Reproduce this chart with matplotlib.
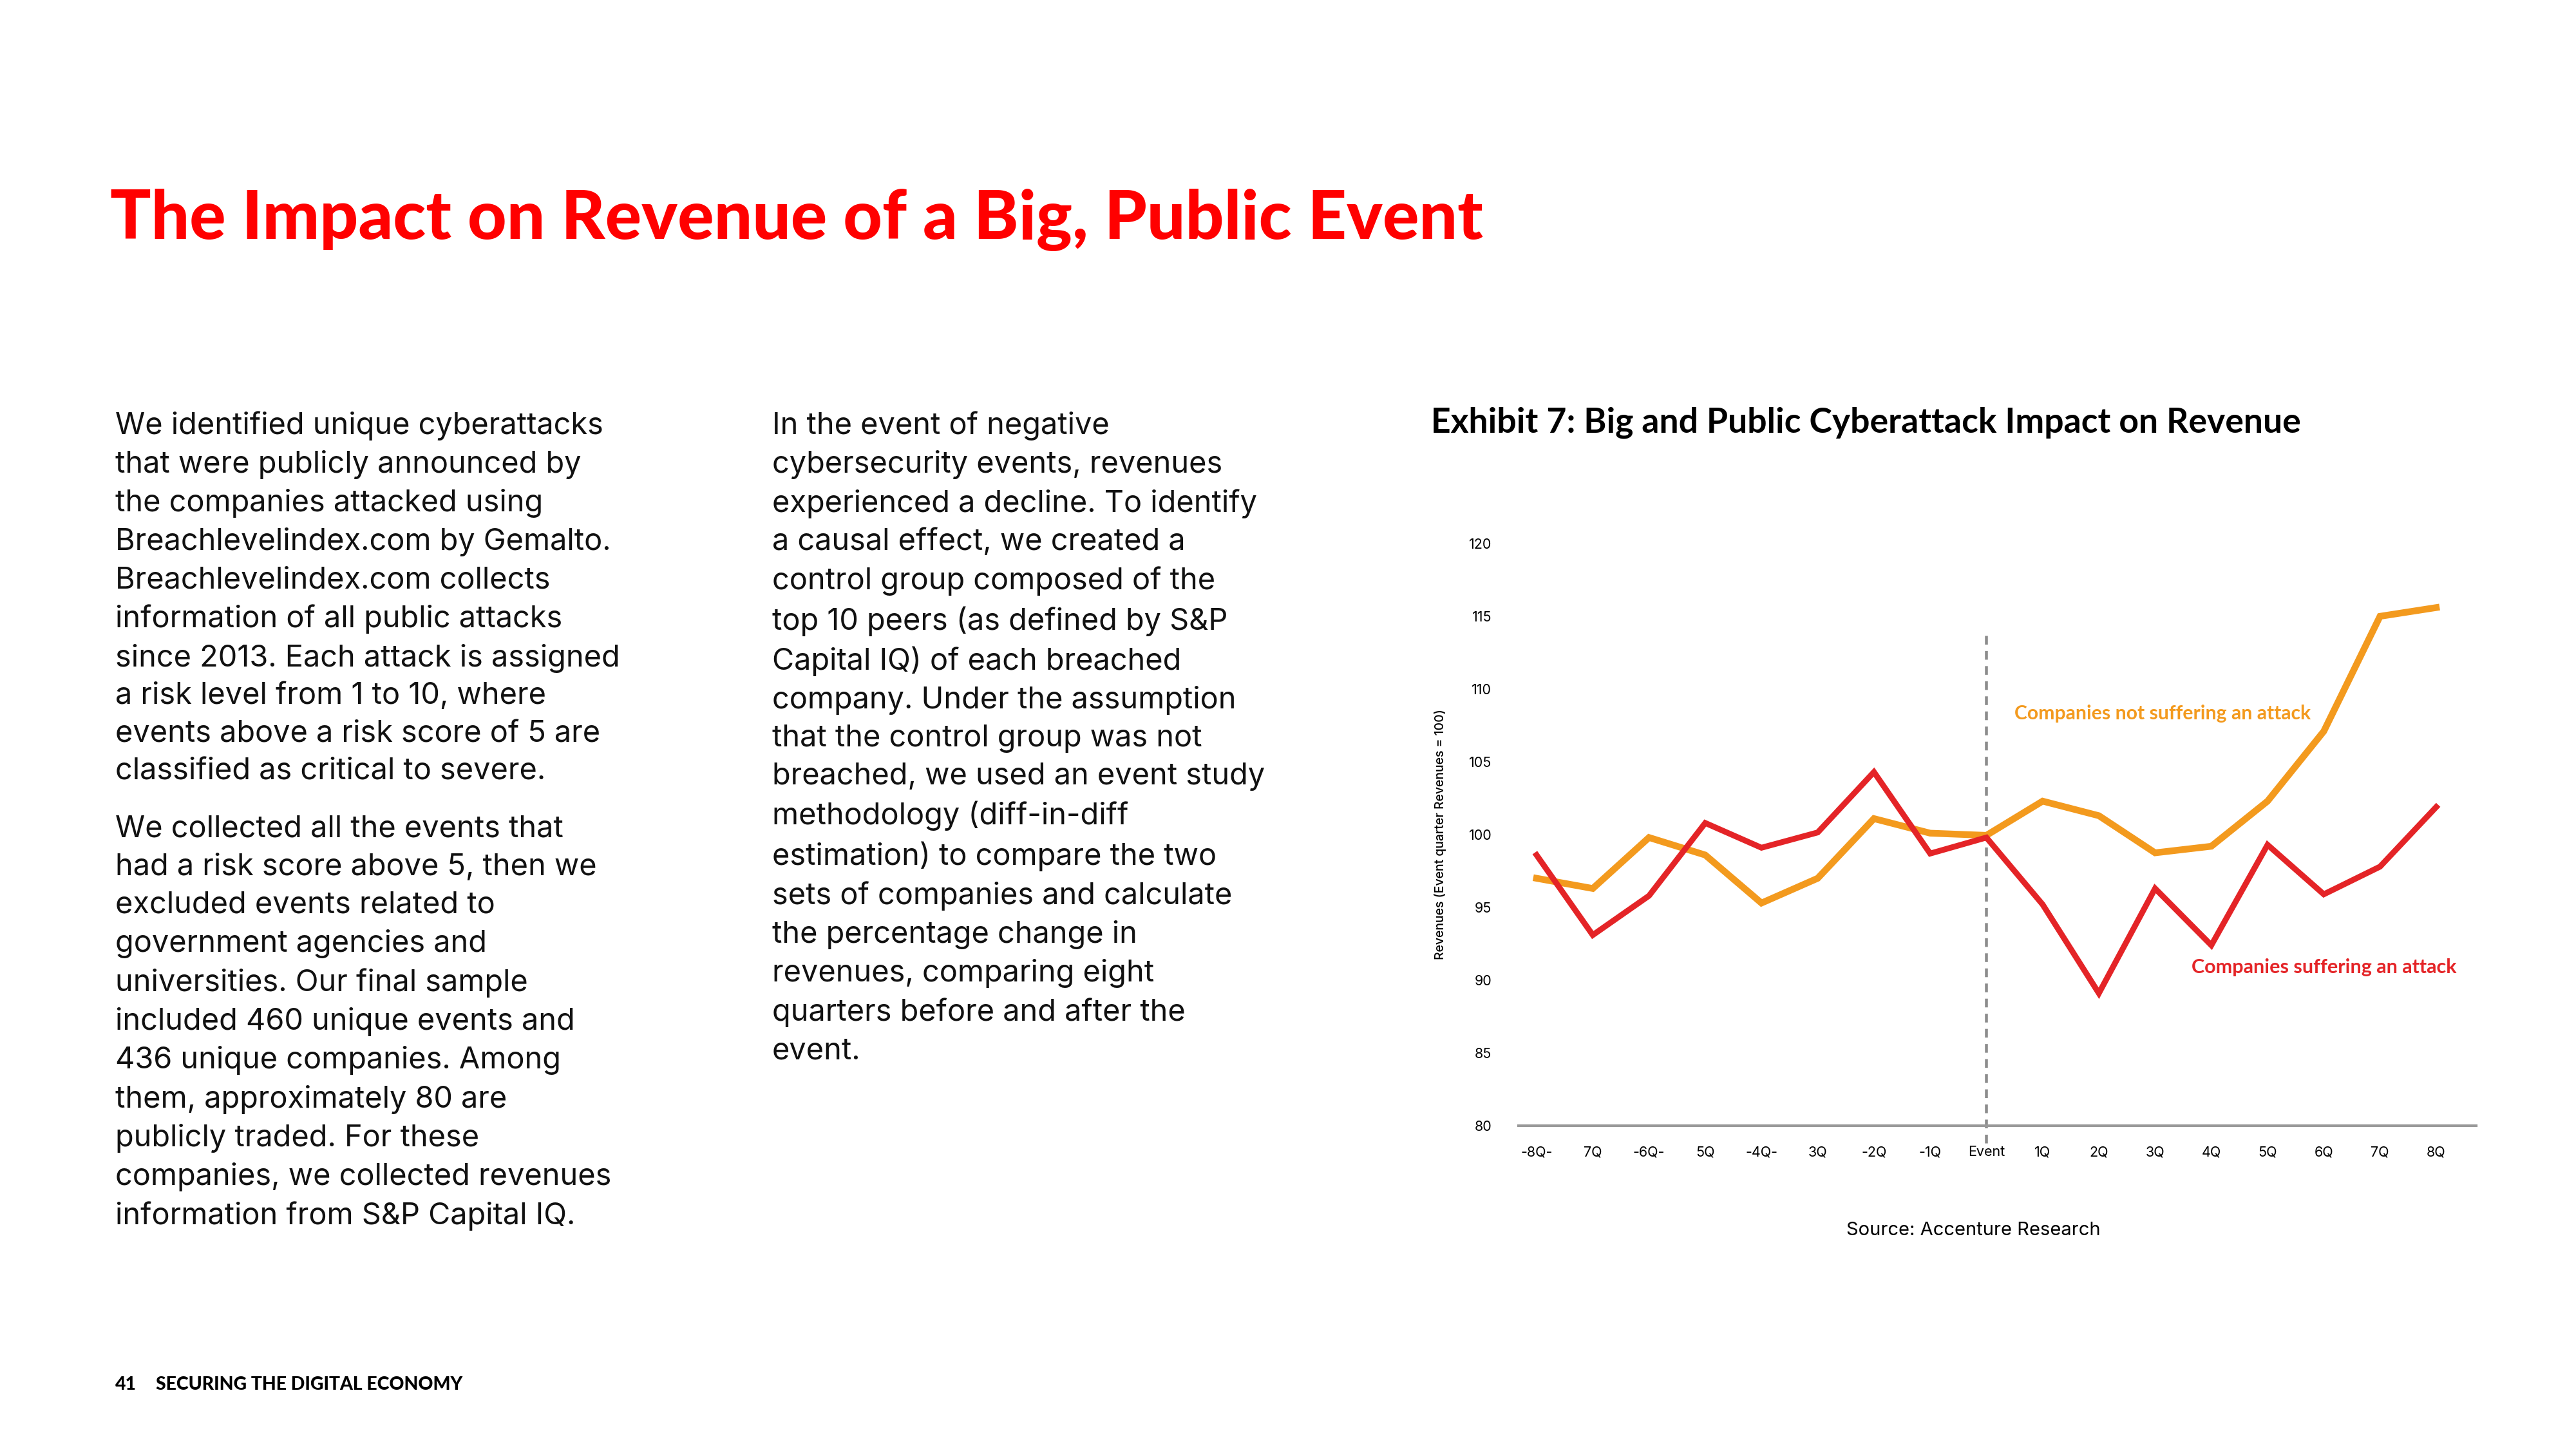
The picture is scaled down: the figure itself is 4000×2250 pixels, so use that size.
import matplotlib
matplotlib.use("Agg")
import matplotlib.pyplot as plt

quarters = ["-8Q-", "7Q", "-6Q-", "5Q", "-4Q-", "3Q", "-2Q", "-1Q", "Event",
            "1Q", "2Q", "3Q", "4Q", "5Q", "6Q", "7Q", "8Q"]
attacked = [98.6, 93.1, 95.8, 100.8, 99.1, 100.15, 104.3, 98.7, 99.8,
            95.2, 89.1, 96.3, 92.4, 99.3, 95.9, 97.8, 101.9]
not_attacked = [97.0, 96.3, 99.8, 98.6, 95.3, 97.0, 101.1, 100.1, 99.95,
                102.3, 101.3, 98.75, 99.2, 102.3, 107.1, 115.0, 115.6]
yticks = [80, 85, 90, 95, 100, 105, 110, 115, 120]

RED = "#E42427"
ORANGE = "#F39A1E"
TITLE_RED = "#FF0000"
BODY = "Inter"
HEAVY = "Lato"

col1 = [
    "We identified unique cyberattacks\nthat were publicly announced by\n"
    "the companies attacked using\nBreachlevelindex.com by Gemalto.\n"
    "Breachlevelindex.com collects\ninformation of all public attacks\n"
    "since 2013. Each attack is assigned\na risk level from 1 to 10, where\n"
    "events above a risk score of 5 are\nclassified as critical to severe.",
    "We collected all the events that\nhad a risk score above 5, then we\n"
    "excluded events related to\ngovernment agencies and\n"
    "universities. Our final sample\nincluded 460 unique events and\n"
    "436 unique companies. Among\nthem, approximately 80 are\n"
    "publicly traded. For these\ncompanies, we collected revenues\n"
    "information from S&P Capital IQ.",
]
col2 = ("In the event of negative\ncybersecurity events, revenues\n"
        "experienced a decline. To identify\na causal effect, we created a\n"
        "control group composed of the\ntop 10 peers (as defined by S&P\n"
        "Capital IQ) of each breached\ncompany. Under the assumption\n"
        "that the control group was not\nbreached, we used an event study\n"
        "methodology (diff-in-diff\nestimation) to compare the two\n"
        "sets of companies and calculate\nthe percentage change in\n"
        "revenues, comparing eight\nquarters before and after the\nevent.")

fig = plt.figure(figsize=(16, 9), dpi=250)
W, H = 4000, 2250

def fx(px):
    return px / W

def fy(py):
    return 1 - py / H

# page title
fig.text(fx(171), fy(342), "The Impact on Revenue of a Big, Public Event",
         color=TITLE_RED, family=HEAVY, weight="black", fontsize=30.3,
         va="center", ha="left")

# body text columns
body_kw = dict(family=BODY, fontsize=13.5, linespacing=1.435, va="top",
               ha="left", color="#111111")
fig.text(fx(179), fy(638), col1[0], **body_kw)
fig.text(fx(179), fy(1266), col1[1], **body_kw)
fig.text(fx(1199), fy(638), col2, **body_kw)

# chart title
fig.text(fx(2222), fy(656), "Exhibit 7: Big and Public Cyberattack Impact on Revenue",
         family=HEAVY, weight="bold", fontsize=15.4, va="center", ha="left")

ax = fig.add_axes([fx(2358), fy(1748), fx(3845 - 2358), (1748 - 844) / H])
x = list(range(len(quarters)))
ax.plot(x, not_attacked, color=ORANGE, lw=3.0, solid_joinstyle="miter", zorder=3)
ax.plot(x, attacked, color=RED, lw=2.6, solid_joinstyle="miter", zorder=4)
ev = quarters.index("Event")
ax.plot([ev, ev], [78.8, 113.8], color="#8C8C8C", lw=1.3, ls=(0, (3, 2.2)),
        clip_on=False, zorder=2)

ax.set_xlim(-0.32, 16.71)
ax.set_ylim(80, 120)
ax.set_yticks(yticks)
ax.set_yticklabels([str(v) for v in yticks], family=BODY, fontsize=6.2)
ax.set_xticks(x)
ax.set_xticklabels(quarters, family=BODY, fontsize=6.2)
ax.tick_params(length=0, pad=9)
ax.tick_params(axis="y", pad=12)
for s in ["top", "right", "left"]:
    ax.spines[s].set_visible(False)
ax.spines["bottom"].set_color("#999999")
ax.spines["bottom"].set_linewidth(1.2)
ax.set_ylabel("Revenues (Event quarter Revenues = 100)", family=BODY,
              fontsize=5.6, weight="medium", labelpad=10)

ax.text(8.5, 108.3, "Companies not suffering an attack", color=ORANGE,
        family=HEAVY, weight="bold", fontsize=8.7, ha="left", va="center")
ax.text(11.65, 90.9, "Companies suffering an attack", color=RED,
        family=HEAVY, weight="bold", fontsize=8.8, ha="left", va="center")

fig.text(fx(3064), fy(1911), "Source: Accenture Research", family=BODY,
         fontsize=8.4, ha="center", va="center")

# footer
fig.text(fx(179), fy(2150), "41", family=HEAVY, weight="black", fontsize=8.2,
         va="center", ha="left")
fig.text(fx(242), fy(2150), "SECURING THE DIGITAL ECONOMY", family=HEAVY,
         weight="black", fontsize=8.2, va="center", ha="left")

fig.savefig("out.png", dpi=250)
